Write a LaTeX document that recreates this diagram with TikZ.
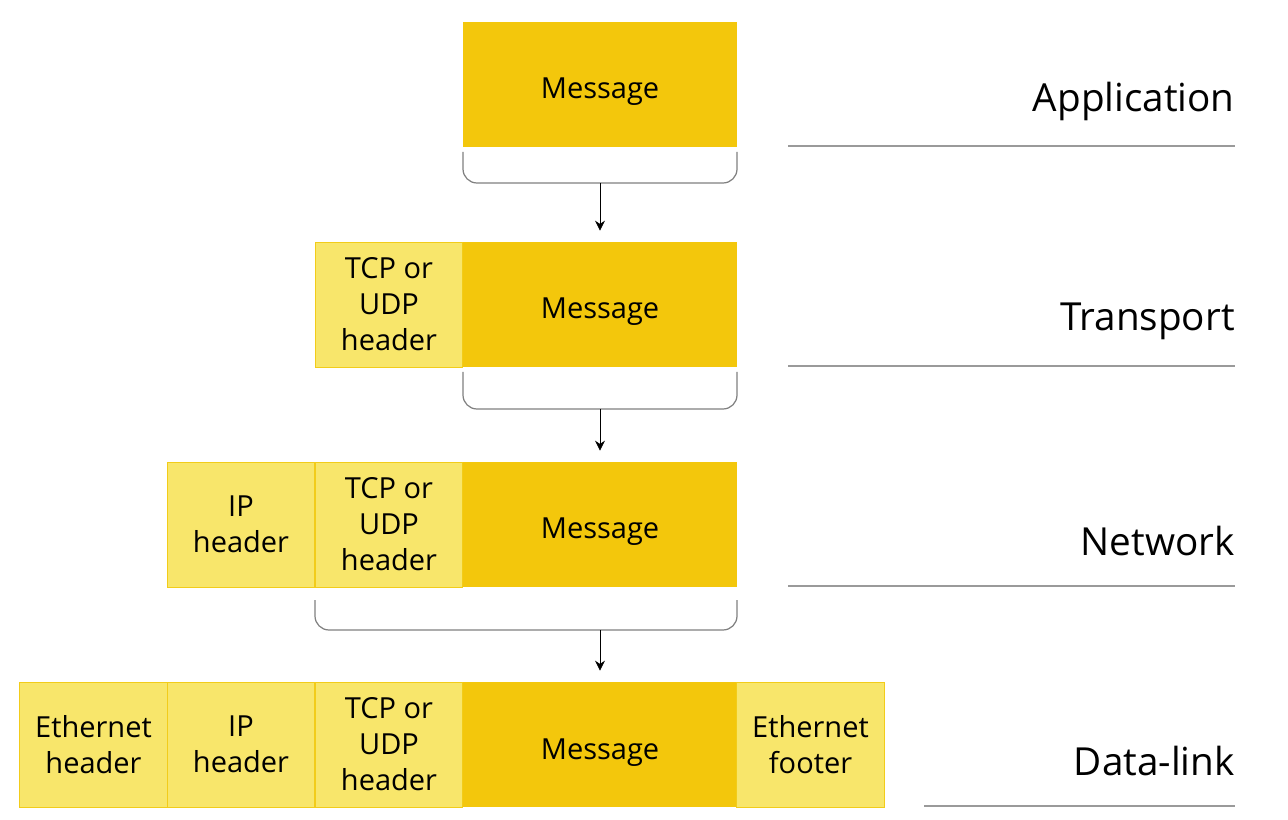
\documentclass[tikz,border=0pt]{standalone}
\usepackage{fontspec}
\setmainfont{Open Sans}
\usetikzlibrary{arrows.meta}
\definecolor{msgfill}{HTML}{F3C70C}
\definecolor{hdrfill}{HTML}{F8E66B}
\definecolor{hdrline}{HTML}{F2CC1A}
\definecolor{rulegray}{HTML}{9A9A9A}
\begin{document}
\begin{tikzpicture}[x=0.02cm,y=-0.02cm,>={Stealth[length=0.2cm,width=0.2cm]},
  box/.style={minimum height=2.5cm,inner sep=0pt,align=center,font=\fontsize{16.5}{20.5}\selectfont},
  msg/.style={box,fill=msgfill,minimum width=5.48cm,text height=0.58cm,text depth=0pt},
  hdr/.style={box,fill=hdrfill,draw=hdrline,minimum width=2.95cm},
  layer/.style={anchor=east,inner sep=0pt,font=\fontsize{22}{26}\selectfont},
  rule/.style={draw=rulegray,line width=0.8pt},
  brace/.style={draw=gray,line width=0.7pt,rounded corners=0.28cm}]
\useasboundingbox (0,0) rectangle (1288,820);
% messages and layer names
\foreach \r/\y/\name in {1/84.5/Application,2/304.5/Transport,3/524.5/Network,4/744.5/Data-link}{
  \node[msg] (m\r) at (600,\y) {Message};
  \node[layer] (l\r) at (1235,\y+17) {\name};
}
% headers
\foreach \r/\y in {2/304.5,3/524.5,4/744.5}
  \node[hdr] (t\r) at (389,\y) {TCP or\\UDP\\header};
\foreach \r/\y in {3/524.5,4/744.5}
  \node[hdr] (i\r) at (241,\y) {IP\\header};
\node[hdr] (e4) at (93.5,744.5) {Ethernet\\header};
\node[hdr] (f4) at (810.5,744.5) {Ethernet\\footer};
% rules under the layer names
\draw[rule] (788,146)--(1235,146);
\draw[rule] (788,366)--(1235,366);
\draw[rule] (788,586)--(1235,586);
\draw[rule] (924,806)--(1235,806);
% brackets and arrows
\draw[brace] (463,152)--(463,183)--(737,183)--(737,152);
\draw[brace] (463,372)--(463,409)--(737,409)--(737,372);
\draw[brace] (315,600)--(315,630)--(737,630)--(737,600);
\coordinate (k1) at (600,183);
\coordinate (k2) at (600,409);
\coordinate (k3) at (600,630);
\draw[->,shorten >=0.22cm] (k1)--(m2);
\draw[->,shorten >=0.22cm] (k2)--(m3);
\draw[->,shorten >=0.22cm] (k3)--(m4);
\end{tikzpicture}
\end{document}
